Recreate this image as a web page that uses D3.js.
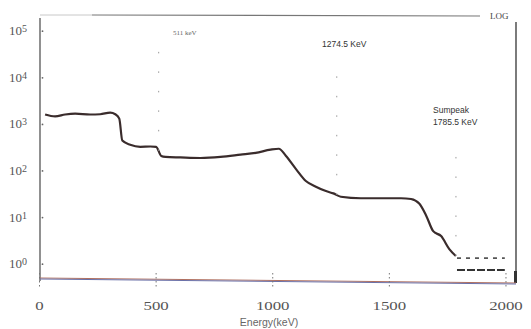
<!DOCTYPE html>
<html>
<head>
<meta charset="utf-8">
<script src="https://cdn.jsdelivr.net/npm/d3@7"></script>
<style>
  body { margin: 0; background: #fff; }
  svg { display: block; }
</style>
</head>
<body>
<div id="chart"></div>
<script>
// continuum of the spectrum (energy keV, counts)
var energy = [24, 67, 110, 153, 217, 260, 303, 325, 342, 355, 389, 432, 475, 500,
  522, 540, 604, 690, 776, 862, 927, 991, 1026, 1056, 1099, 1142, 1185, 1228, 1260,
  1292, 1378, 1464, 1550, 1593, 1628, 1658, 1688, 1722, 1757, 1785];
var counts = [1630, 1480, 1630, 1700, 1630, 1650, 1790, 1650, 1330, 450, 365, 330, 335, 330,
  210, 200, 195, 190, 200, 224, 245, 287, 300, 213, 111, 61, 46, 37, 33,
  28, 26, 26, 26, 25, 20, 11, 5.1, 4, 2.1, 1.5];

// photopeaks
var peakE = [511, 1274.5, 1785.5];
var peakC = [80000, 20000, 420];
var peakLabels = ["511 keV", "1274.5 KeV", "Sumpeak|1785.5 KeV"];

// traces above the sum peak
var tailE = [1790, 1850, 1900, 1950, 1995];
var tailHigh = [1.35, 1.35, 1.35, 1.35, 1.35];
var tailLow = [0.75, 0.75, 0.75, 0.75, 0.75];

var xTicks = [0, 500, 1000, 1500, 2000];
var yTicks = [1e5, 1e4, 1e3, 1e2, 1e1, 1e0];

var serif = "'Liberation Serif', 'DejaVu Serif', 'Times New Roman', serif";
var sans = "'Liberation Sans', Arial, sans-serif";

var width = 531, height = 329;
var mLeft = 40, mRight = 516, mTop = 15, mBottom = 279;

var svg = d3.select("#chart").append("svg")
  .attr("width", width)
  .attr("height", height);

var x = d3.scaleLinear().domain([0, 2043]).range([39.5, mRight]);
var y = d3.scaleLog().domain([0.48, 234000]).range([mBottom, mTop - 1]);

// frame
svg.append("line").attr("x1", mLeft).attr("x2", 92).attr("y1", mTop).attr("y2", mTop)
  .attr("stroke", "#c8c8c8").attr("stroke-width", 1);
svg.append("line").attr("x1", 92).attr("x2", 480).attr("y1", mTop).attr("y2", mTop + 1)
  .attr("stroke", "#777").attr("stroke-width", 1.2);
svg.append("line").attr("x1", mLeft).attr("x2", mLeft).attr("y1", 18).attr("y2", mBottom + 2)
  .attr("stroke", "#555").attr("stroke-width", 1.3);
svg.append("line").attr("x1", mRight).attr("x2", mRight).attr("y1", 22).attr("y2", mBottom + 4)
  .attr("stroke", "#444").attr("stroke-width", 1.4);
svg.append("rect").attr("x", mRight - 2).attr("y", mBottom - 8).attr("width", 3).attr("height", 12)
  .attr("fill", "#333");
svg.append("line").attr("x1", mLeft).attr("x2", mRight).attr("y1", mBottom - 1).attr("y2", mBottom + 4)
  .attr("stroke", "#b07060").attr("stroke-width", 1);
svg.append("line").attr("x1", mLeft).attr("x2", mRight).attr("y1", mBottom).attr("y2", mBottom + 5)
  .attr("stroke", "#6a70a8").attr("stroke-width", 1);

svg.append("text").attr("x", 490).attr("y", 19)
  .attr("font-family", serif).attr("font-size", 9).attr("fill", "#444")
  .text("LOG");

// x ticks
var xt = svg.append("g");
xt.selectAll("line").data(xTicks).enter().append("line")
  .attr("x1", function (d) { return x(d); }).attr("x2", function (d) { return x(d); })
  .attr("y1", mBottom - 6).attr("y2", mBottom + 10)
  .attr("stroke", "#777").attr("stroke-dasharray", "1.5,2.5");
xt.selectAll("text").data(xTicks).enter().append("text")
  .attr("x", function (d) { return x(d); })
  .attr("y", 310)
  .attr("text-anchor", "middle")
  .attr("font-family", serif).attr("font-size", 13).attr("fill", "#555")
  .attr("textLength", function (d) { return String(d).length * 8.4; })
  .attr("lengthAdjust", "spacingAndGlyphs")
  .text(function (d) { return d; });

svg.append("text").attr("x", 269).attr("y", 326).attr("text-anchor", "middle")
  .attr("font-family", sans).attr("font-size", 10.5).attr("fill", "#666")
  .text("Energy(keV)");

// y ticks
var yt = svg.append("g");
yt.selectAll("circle").data(yTicks).enter().append("circle")
  .attr("cx", mLeft + 2.5).attr("cy", function (d) { return y(d); }).attr("r", 0.9)
  .attr("fill", "#666");
var ylab = yt.selectAll("text").data(yTicks).enter().append("text")
  .attr("x", 9).attr("y", function (d) { return y(d) + 4; })
  .attr("font-family", serif).attr("font-size", 13).attr("fill", "#555");
ylab.append("tspan").text("10");
ylab.append("tspan").attr("font-size", 10).attr("dy", -3)
  .text(function (d) { return Math.round(Math.log10(d)); });

// spectrum
var line = d3.line()
  .x(function (d) { return x(d[0]); })
  .y(function (d) { return y(d[1]); })
  .curve(d3.curveMonotoneX);

svg.append("path")
  .datum(d3.zip(energy, counts))
  .attr("d", line)
  .attr("fill", "none")
  .attr("stroke", "#3a2c2c")
  .attr("stroke-width", 2.2);

svg.append("path")
  .datum(d3.zip(tailE, tailHigh))
  .attr("d", line)
  .attr("fill", "none")
  .attr("stroke", "#555")
  .attr("stroke-width", 1.8)
  .attr("stroke-dasharray", "4,5");

svg.append("path")
  .datum(d3.zip(tailE, tailLow))
  .attr("d", line)
  .attr("fill", "none")
  .attr("stroke", "#333")
  .attr("stroke-width", 2)
  .attr("stroke-dasharray", "8,2");

// photopeaks, faint in the scan
var base = d3.scaleLinear().domain(energy).range(counts).clamp(true);
var pk = svg.append("g");
pk.selectAll("line").data(d3.zip(peakE, peakC)).enter().append("line")
  .attr("x1", function (d) { return x(d[0]); }).attr("x2", function (d) { return x(d[0]); })
  .attr("y1", function (d) { return y(base(d[0])); })
  .attr("y2", function (d) { return y(d[1]); })
  .attr("stroke", "#999").attr("stroke-width", 1).attr("stroke-dasharray", "1.5,18");

// peak labels
var labPos = [[173, 35, 7, serif, "#666"],
  [322, 47, 8.5, sans, "#333"],
  [433, 113, 8.5, sans, "#333"]];
peakLabels.forEach(function (t, i) {
  var p = labPos[i];
  var txt = svg.append("text").attr("x", p[0]).attr("y", p[1])
    .attr("font-family", p[3]).attr("font-size", p[2]).attr("fill", p[4]);
  t.split("|").forEach(function (s, j) {
    txt.append("tspan").attr("x", p[0]).attr("dy", j ? 12 : 0).text(s);
  });
});
</script>
</body>
</html>
